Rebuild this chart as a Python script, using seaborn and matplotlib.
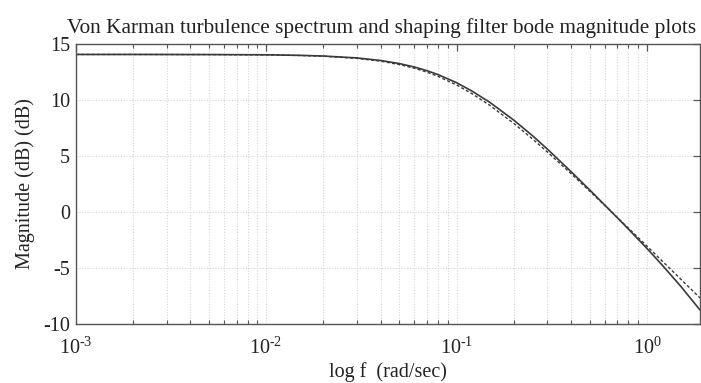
import numpy as np
import pandas as pd
import matplotlib
matplotlib.use("Agg")
import matplotlib.pyplot as plt
import matplotlib.ticker as mticker
import seaborn as sns

# ---- data ----
freq = [0.001, 0.002, 0.005, 0.01, 0.015, 0.02, 0.03, 0.04, 0.05, 0.06, 0.07,
        0.08, 0.1, 0.12, 0.15, 0.2, 0.25, 0.3, 0.4, 0.5, 0.6, 0.7, 0.8, 1.0,
        1.2, 1.5, 1.9]
filter_db = [14.07, 14.07, 14.06, 14.04, 13.99, 13.93, 13.76, 13.53, 13.26,
             12.95, 12.62, 12.27, 11.55, 10.82, 9.78, 8.20, 6.83, 5.62, 3.60,
             1.98, 0.63, -0.52, -1.53, -3.25, -4.72, -6.60, -8.75]
vonkarman_db = [14.07, 14.07, 14.06, 14.03, 13.98, 13.91, 13.72, 13.47, 13.17,
                12.84, 12.49, 12.11, 11.35, 10.59, 9.51, 7.91, 6.54, 5.36, 3.42,
                1.87, 0.59, -0.50, -1.45, -3.04, -4.36, -5.97, -7.67]
y_ticks = [-10, -5, 0, 5, 10, 15]
x_ticks = [1e-3, 1e-2, 1e-1, 1e0]
x_tick_exps = ["-3", "-2", "-1", "0"]

title = "Von Karman turbulence spectrum and shaping filter bode magnitude plots"
x_label = "log f  (rad/sec)"
y_label = "Magnitude (dB) (dB)"

df = pd.DataFrame({
    "f": freq * 2,
    "mag": filter_db + vonkarman_db,
    "curve": ["filter"] * len(freq) + ["vonkarman"] * len(freq),
})

sns.set_theme(style="white")
plt.rcParams["font.family"] = ["Liberation Serif", "DejaVu Serif"]
plt.rcParams["mathtext.fontset"] = "custom"
plt.rcParams["mathtext.rm"] = "Liberation Serif"
plt.rcParams["mathtext.it"] = "Liberation Serif:italic"
plt.rcParams["axes.unicode_minus"] = False

fig = plt.figure(figsize=(7.01, 3.83), dpi=100)
ax = fig.add_axes([0.108, 0.154, 0.8906, 0.731])

sns.lineplot(data=df[df.curve == "filter"], x="f", y="mag", ax=ax,
             color="#3a3a3a", linewidth=1.2, estimator=None, sort=True)
sns.lineplot(data=df[df.curve == "vonkarman"], x="f", y="mag", ax=ax,
             color="#3a3a3a", linewidth=1.0, linestyle=(0, (2.2, 1.6)),
             estimator=None, sort=True)

ax.set_xscale("log")
ax.set_xlim(1e-3, 1.9)
ax.set_ylim(-10, 15)
ax.set_yticks(y_ticks)
ax.set_xticks(x_ticks)
ax.set_xticklabels([r"$\mathdefault{10^{\text{%s}}}$" % e for e in x_tick_exps])
ax.xaxis.set_minor_locator(mticker.LogLocator(base=10, subs=np.arange(2, 10), numticks=20))
ax.xaxis.set_minor_formatter(mticker.NullFormatter())

ax.grid(True, which="major", axis="both", color="#d6d6d6", linestyle=(0, (1, 1.5)), linewidth=0.8)
ax.grid(True, which="minor", axis="x", color="#d6d6d6", linestyle=(0, (1, 1.5)), linewidth=0.8)

for s in ax.spines.values():
    s.set_color("#555555")
    s.set_linewidth(1.0)

ax.tick_params(axis="both", which="major", direction="in", length=5, width=0.9,
               color="#555555", top=True, right=True, labelsize=14.5,
               labelcolor="#222222")
ax.tick_params(axis="x", which="major", pad=10)
ax.tick_params(axis="y", which="major", pad=4)
ax.tick_params(axis="x", which="minor", direction="in", length=3, width=0.8,
               color="#555555", top=True, bottom=True)

ax.set_xlabel(x_label, fontsize=14.5, color="#222222", labelpad=2)
ax.set_ylabel(y_label, fontsize=14.5, color="#222222", labelpad=6)
ax.set_title(title, fontsize=15.3, color="#222222", pad=8, x=0.49)

fig.savefig("out.png", dpi=100)
